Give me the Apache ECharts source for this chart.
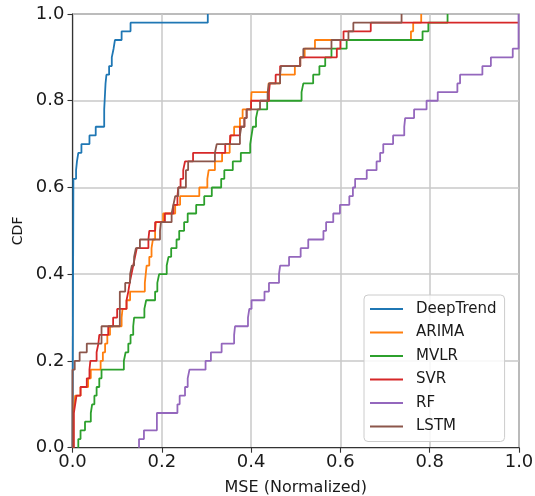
<!DOCTYPE html>
<html>
<head>
<meta charset="utf-8">
<script src="https://cdn.jsdelivr.net/npm/echarts@6/dist/echarts.min.js"></script>
<style>html,body{margin:0;padding:0;background:#fff}#c{width:535px;height:496px}</style>
</head>
<body>
<div id="c"></div>
<script>
// Tick labels
const xTicks = [0.0, 0.2, 0.4, 0.6, 0.8, 1.0];
const yTicks = [0.0, 0.2, 0.4, 0.6, 0.8, 1.0];
const seriesNames = ['DeepTrend', 'ARIMA', 'MVLR', 'SVR', 'RF', 'LSTM'];

// Step points: x where the empirical CDF jumps to y
const deepTrendX = [0, 0.002, 0.008, 0.010, 0.013, 0.020, 0.038, 0.052, 0.071, 0.071, 0.072, 0.073, 0.074, 0.076, 0.082, 0.088, 0.092, 0.095, 0.110, 0.130, 0.303];
const deepTrendY = [0, 0.62, 0.64, 0.66, 0.68, 0.70, 0.72, 0.74, 0.76, 0.78, 0.80, 0.82, 0.84, 0.86, 0.88, 0.90, 0.92, 0.94, 0.96, 0.98, 1.00];

const arimaX = [0.002, 0.002, 0.004, 0.006, 0.018, 0.035, 0.041, 0.063, 0.068, 0.073, 0.078, 0.084, 0.110, 0.112, 0.121, 0.129, 0.162, 0.164, 0.166, 0.172, 0.177, 0.180, 0.185, 0.187, 0.203, 0.230, 0.241, 0.284, 0.302, 0.305, 0.319, 0.335, 0.352, 0.355, 0.362, 0.375, 0.381, 0.400, 0.401, 0.439, 0.465, 0.498, 0.510, 0.520, 0.543, 0.758, 0.763, 0.781];
const arimaY = [0, 0.08, 0.10, 0.12, 0.14, 0.16, 0.18, 0.20, 0.22, 0.24, 0.26, 0.28, 0.30, 0.32, 0.34, 0.36, 0.38, 0.40, 0.42, 0.44, 0.46, 0.48, 0.50, 0.52, 0.54, 0.56, 0.58, 0.60, 0.62, 0.64, 0.66, 0.68, 0.70, 0.72, 0.74, 0.76, 0.78, 0.80, 0.82, 0.84, 0.86, 0.88, 0.90, 0.92, 0.94, 0.96, 0.98, 1.00];

const mvlrX = [0.013, 0.013, 0.018, 0.028, 0.041, 0.044, 0.049, 0.054, 0.060, 0.065, 0.115, 0.119, 0.125, 0.130, 0.136, 0.138, 0.161, 0.165, 0.185, 0.190, 0.194, 0.211, 0.215, 0.221, 0.233, 0.239, 0.250, 0.258, 0.277, 0.295, 0.312, 0.333, 0.340, 0.359, 0.377, 0.398, 0.401, 0.404, 0.411, 0.415, 0.436, 0.513, 0.517, 0.539, 0.553, 0.566, 0.580, 0.614, 0.784, 0.797, 0.840];
const mvlrY = [0, 0.02, 0.04, 0.06, 0.08, 0.10, 0.12, 0.14, 0.16, 0.18, 0.20, 0.22, 0.24, 0.26, 0.28, 0.30, 0.32, 0.34, 0.36, 0.38, 0.40, 0.42, 0.44, 0.46, 0.48, 0.50, 0.52, 0.54, 0.56, 0.58, 0.60, 0.62, 0.64, 0.66, 0.68, 0.70, 0.72, 0.74, 0.76, 0.78, 0.80, 0.82, 0.84, 0.86, 0.88, 0.90, 0.92, 0.94, 0.96, 0.98, 1.00];

const svrX = [0.003, 0.003, 0.006, 0.009, 0.018, 0.032, 0.038, 0.040, 0.054, 0.058, 0.060, 0.080, 0.091, 0.100, 0.121, 0.125, 0.128, 0.132, 0.136, 0.140, 0.144, 0.170, 0.172, 0.185, 0.207, 0.226, 0.235, 0.237, 0.242, 0.248, 0.252, 0.270, 0.342, 0.353, 0.375, 0.385, 0.390, 0.400, 0.440, 0.442, 0.455, 0.465, 0.510, 0.592, 0.600, 0.607, 0.668, 1.000];
const svrY = [0, 0.08, 0.10, 0.12, 0.14, 0.16, 0.18, 0.20, 0.22, 0.24, 0.26, 0.28, 0.30, 0.32, 0.34, 0.36, 0.38, 0.40, 0.42, 0.44, 0.46, 0.48, 0.50, 0.52, 0.54, 0.56, 0.58, 0.60, 0.62, 0.64, 0.66, 0.68, 0.70, 0.72, 0.74, 0.76, 0.78, 0.80, 0.82, 0.84, 0.86, 0.88, 0.90, 0.92, 0.94, 0.96, 0.98, 0.98];

const rfX = [0.149, 0.149, 0.160, 0.189, 0.235, 0.240, 0.252, 0.258, 0.262, 0.298, 0.310, 0.334, 0.362, 0.364, 0.393, 0.396, 0.401, 0.430, 0.440, 0.4625, 0.465, 0.485, 0.511, 0.528, 0.562, 0.568, 0.584, 0.599, 0.620, 0.628, 0.633, 0.659, 0.681, 0.689, 0.696, 0.718, 0.743, 0.745, 0.765, 0.793, 0.818, 0.862, 0.868, 0.918, 0.937, 0.986, 0.999];
const rfY = [0, 0.02, 0.04, 0.08, 0.10, 0.12, 0.14, 0.16, 0.18, 0.20, 0.22, 0.24, 0.26, 0.28, 0.30, 0.32, 0.34, 0.36, 0.38, 0.40, 0.42, 0.44, 0.46, 0.48, 0.50, 0.52, 0.54, 0.56, 0.58, 0.60, 0.62, 0.64, 0.66, 0.68, 0.70, 0.72, 0.74, 0.76, 0.78, 0.80, 0.82, 0.84, 0.86, 0.88, 0.90, 0.92, 1.00];

const lstmX = [0, 0, 0.005, 0.016, 0.032, 0.065, 0.065, 0.106, 0.106, 0.106, 0.106, 0.118, 0.129, 0.133, 0.138, 0.142, 0.151, 0.196, 0.198, 0.222, 0.226, 0.230, 0.237, 0.254, 0.254, 0.259, 0.319, 0.323, 0.375, 0.378, 0.385, 0.390, 0.420, 0.437, 0.440, 0.465, 0.467, 0.510, 0.517, 0.580, 0.618, 0.629, 0.737];
const lstmY = [0, 0.18, 0.20, 0.22, 0.24, 0.26, 0.28, 0.30, 0.32, 0.34, 0.36, 0.38, 0.40, 0.42, 0.44, 0.46, 0.48, 0.50, 0.52, 0.54, 0.56, 0.58, 0.60, 0.62, 0.64, 0.66, 0.68, 0.70, 0.72, 0.74, 0.76, 0.78, 0.80, 0.82, 0.84, 0.86, 0.88, 0.90, 0.92, 0.94, 0.96, 0.98, 1.00];

const colors = ['#1f77b4', '#ff7f0e', '#2ca02c', '#d62728', '#9467bd', '#8c564b'];
const xs = [deepTrendX, arimaX, mvlrX, svrX, rfX, lstmX];
const ys = [deepTrendY, arimaY, mvlrY, svrY, rfY, lstmY];

const zip = (a, b) => a.map((v, i) => [v, b[i]]);
const FONT = 'DejaVu Sans';
const TXT = '#1a1a1a';

const chart = echarts.init(document.getElementById('c'), null, {renderer: 'canvas'});
chart.setOption({
  animation: false,
  backgroundColor: '#fff',
  textStyle: {fontFamily: FONT},
  grid: {left: 72.5, right: 16, top: 14, bottom: 48.3, containLabel: false, outerBoundsMode: 'none', show: true, borderColor: '#333', borderWidth: 1.1, backgroundColor: 'transparent'},
  legend: {
    orient: 'vertical', left: 364, top: 295,
    data: seriesNames,
    icon: 'rect', itemWidth: 33, itemHeight: 2, itemGap: 5.5,
    padding: [5, 8, 6, 6],
    backgroundColor: 'rgba(255,255,255,0.85)',
    borderColor: '#cccccc', borderWidth: 1, borderRadius: 4,
    textStyle: {fontFamily: FONT, fontSize: 15, color: TXT, lineHeight: 18, padding: [0, 0, 0, 8]}
  },
  xAxis: {
    type: 'value', min: xTicks[0], max: xTicks[xTicks.length - 1], interval: 0.2,
    name: 'MSE (Normalized)', nameLocation: 'middle', nameGap: 32,
    nameTextStyle: {fontFamily: FONT, fontSize: 16, color: TXT},
    axisLine: {show: true, lineStyle: {color: '#333', width: 1.1}},
    axisTick: {show: true, length: 5, lineStyle: {color: '#333', width: 1.1}},
    axisLabel: {fontFamily: FONT, fontSize: 18, color: TXT, margin: 6, formatter: v => v.toFixed(1)},
    splitLine: {show: true, lineStyle: {color: '#c8c8c8', width: 1.5}}
  },
  yAxis: {
    type: 'value', min: yTicks[0], max: yTicks[yTicks.length - 1], interval: 0.2,
    name: 'CDF', nameLocation: 'middle', nameGap: 47,
    nameTextStyle: {fontFamily: FONT, fontSize: 14, color: TXT},
    axisLine: {show: true, lineStyle: {color: '#333', width: 1.1}},
    axisTick: {show: true, length: 5, lineStyle: {color: '#333', width: 1.1}},
    axisLabel: {fontFamily: FONT, fontSize: 18, color: TXT, margin: 8, formatter: v => v.toFixed(1)},
    splitLine: {show: true, lineStyle: {color: '#c8c8c8', width: 1.5}}
  },
  series: seriesNames.map((name, i) => ({
    name: name,
    type: 'line',
    step: 'end',
    showSymbol: false,
    symbol: 'none',
    color: colors[i],
    lineStyle: {color: colors[i], width: 1.8},
    data: zip(xs[i], ys[i]),
    z: 2 + i
  }))
});
</script>
</body>
</html>
